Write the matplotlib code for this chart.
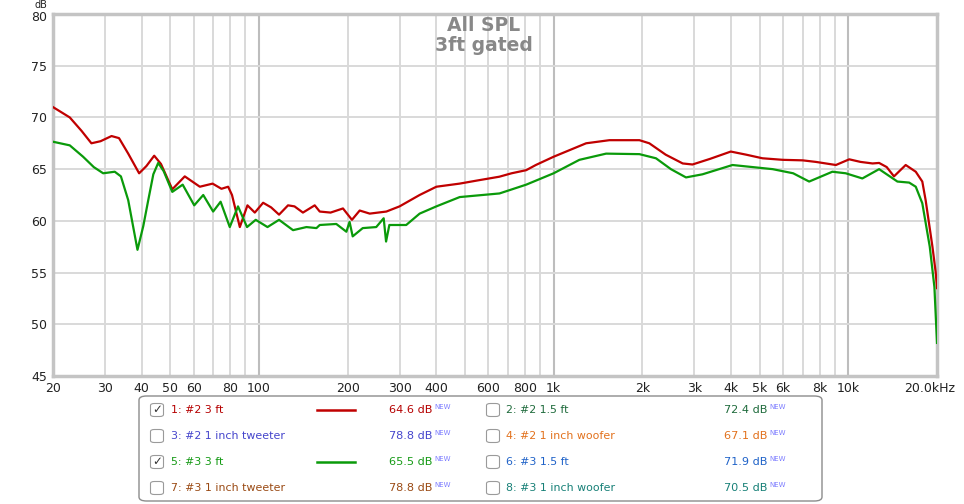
import numpy as np
import matplotlib.pyplot as plt
from matplotlib.patches import FancyBboxPatch
from matplotlib.transforms import ScaledTranslation

# values (Hz, dB)
red_f = [20, 22.8, 25.0, 27.0, 29.0, 31.6, 33.5, 36.0, 39.2, 41.5, 44.1, 46.5, 50.8, 56.0,
         63.0, 69.6, 74.6, 78.6, 81.0, 86.1, 91.4, 96.8, 103.3, 110, 117, 125.5, 132, 141,
         154.6, 160.8, 175, 192.8, 206.8, 219.7, 237.6, 270.6, 300, 350.9, 400, 479.6, 550,
         654.6, 720, 807, 870, 1000, 1289, 1546, 1955, 2112, 2400, 2742, 2960, 3400, 3992,
         4500, 5114, 6000, 7000, 7760, 9077, 10075, 11000, 12085, 12722, 13500, 14290,
         15660, 16940, 17830, 18300, 19300, 19800, 20000]
red_db = [71.0, 70.0, 68.7, 67.5, 67.7, 68.2, 68.0, 66.5, 64.6, 65.3, 66.3, 65.5, 63.05, 64.3,
          63.3, 63.6, 63.1, 63.3, 62.5, 59.4, 61.5, 60.8, 61.75, 61.3, 60.6, 61.5, 61.4, 60.8,
          61.5, 60.9, 60.8, 61.2, 60.1, 61.0, 60.7, 60.9, 61.4, 62.5, 63.3, 63.6, 63.9,
          64.27, 64.6, 64.9, 65.4, 66.2, 67.5, 67.8, 67.8, 67.5, 66.4, 65.55, 65.45, 66.0, 66.7,
          66.4, 66.05, 65.9, 65.85, 65.7, 65.4, 65.95, 65.7, 65.55, 65.6, 65.2, 64.3,
          65.4, 64.75, 63.8, 62.0, 57.5, 55.0, 53.5]

green_f = [20, 22.8, 25.3, 27.5, 29.6, 32.4, 34.0, 36.0, 38.7, 40.5, 42.1, 43.8, 45.5, 47.5,
           50.8, 55.1, 60.3, 64.7, 69.9, 74.1, 79.6, 84.9, 91.1, 97.5, 106.9, 117, 130.5,
           144.9, 156.7, 160.8, 183, 198, 203, 208, 225, 250, 265, 270, 277, 316, 351, 400,
           480, 655, 807, 1000, 1223, 1507, 1955, 2225, 2500, 2813, 3200, 4045, 5535, 6500,
           7365, 8830, 9800, 11160, 12722, 14680, 16090, 16940, 17830, 18900, 19600, 20000]
green_db = [67.65, 67.3, 66.2, 65.2, 64.6, 64.75, 64.3, 62.0, 57.2, 59.5, 62.0, 64.5, 65.6, 64.8,
            62.8, 63.5, 61.5, 62.5, 60.9, 61.85, 59.4, 61.4, 59.4, 60.1, 59.4, 60.1, 59.1,
            59.4, 59.3, 59.6, 59.7, 58.95, 59.9, 58.5, 59.3, 59.4, 60.25, 58.0, 59.6, 59.6, 60.7, 61.4,
            62.3, 62.65, 63.5, 64.6, 65.9, 66.5, 66.45, 66.05, 65.0, 64.2, 64.5, 65.4, 65.0, 64.6,
            63.8, 64.75, 64.6, 64.1, 65.0, 63.8, 63.7, 63.3, 61.7, 57.5, 53.6, 48.2]

xticks = [20, 30, 40, 50, 60, 80, 100, 200, 300, 400, 600, 800, 1000, 2000, 3000, 4000,
          5000, 6000, 8000, 10000, 20000]
xlabels = ['20', '30', '40', '50', '60', '80', '100', '200', '300', '400', '600', '800', '1k',
           '2k', '3k', '4k', '5k', '6k', '8k', '10k', '20.0kHz']
yticks = [45, 50, 55, 60, 65, 70, 75, 80]

legend_left = [('1: #2 3 ft', '64.6 dB', '#b50000', True, '#c00000'),
               ('3: #2 1 inch tweeter', '78.8 dB', '#4545cc', False, None),
               ('5: #3 3 ft', '65.5 dB', '#159a15', True, '#0a9a0a'),
               ('7: #3 1 inch tweeter', '78.8 dB', '#9a4a14', False, None)]
legend_right = [('2: #2 1.5 ft', '72.4 dB', '#1f6b3c', False, None),
                ('4: #2 1 inch woofer', '67.1 dB', '#e2711c', False, None),
                ('6: #3 1.5 ft', '71.9 dB', '#1f62c8', False, None),
                ('8: #3 1 inch woofer', '70.5 dB', '#178077', False, None)]

W, H = 964, 504
fig = plt.figure(figsize=(W / 100, H / 100), dpi=100)
ax = fig.add_axes([53 / W, 1 - 376 / H, (937 - 53) / W, (376 - 14) / H])

ax.set_xscale('log')
ax.set_xlim(20, 20000)
ax.set_ylim(45, 80)

# grid
for f in [30, 40, 50, 60, 70, 80, 90, 200, 300, 400, 500, 600, 700, 800, 900,
          2000, 3000, 4000, 5000, 6000, 7000, 8000, 9000]:
    ax.axvline(f, color='#d9d9d9', lw=1.4, zorder=1)
for f in [100, 1000, 10000]:
    ax.axvline(f, color='#bdbdbd', lw=1.5, zorder=1)
for y in yticks[1:-1]:
    ax.axhline(y, color='#d9d9d9', lw=1.4, zorder=1)

ax.plot(red_f, red_db, color='#c00000', lw=1.6, zorder=3)
ax.plot(green_f, green_db, color='#0a9a0a', lw=1.6, zorder=4)

ax.set_xticks(xticks)
ax.set_xticklabels(xlabels)
ax.xaxis.set_minor_locator(plt.NullLocator())
ax.set_yticks(yticks)
ax.tick_params(length=0, labelsize=9, pad=4, colors='#222222')
last = ax.get_xticklabels()[-1]
last.set_transform(last.get_transform() + ScaledTranslation(-7 / 100, 0, fig.dpi_scale_trans))
top = ax.get_yticklabels()[-1]
top.set_transform(top.get_transform() + ScaledTranslation(0, -2 / 100, fig.dpi_scale_trans))

for s in ax.spines.values():
    s.set_color('#c4c4c4')
    s.set_linewidth(2.5)

fig.text(47 / W, 1 - 0.5 / H, 'dB', ha='right', va='top', fontsize=7, color='#222222')

ax.text(0.487, 0.995, 'All SPL\n3ft gated', transform=ax.transAxes, ha='center', va='top',
        fontsize=13.5, fontweight='bold', color='#888888', linespacing=1.1)

# legend panel
def fx(x):
    return x / W

def fy(y):
    return 1 - y / H

box = FancyBboxPatch((fx(139), fy(501)), fx(822) - fx(139), fy(396) - fy(501),
                     boxstyle='round,pad=0,rounding_size=0.008', transform=fig.transFigure,
                     facecolor='white', edgecolor='#8c8c8c', lw=1.0)
fig.patches.append(box)

rows = [410, 436, 462, 488]

def draw_col(items, cb_x, txt_x, line_x0, line_x1, val_x):
    for (lab, val, col, checked, lc), y in zip(items, rows):
        cb = FancyBboxPatch((fx(cb_x - 6.5), fy(y + 6.5)), fx(13), 13 / H,
                            boxstyle='round,pad=0,rounding_size=0.004', transform=fig.transFigure,
                            facecolor='white', edgecolor='#9a9a9a', lw=0.8)
        fig.patches.append(cb)
        if checked:
            fig.text(fx(cb_x), fy(y), '\u2713', ha='center', va='center', fontsize=8.5,
                     color='#333333')
        fig.text(fx(txt_x), fy(y), lab, ha='left', va='center', fontsize=7.9, color=col)
        if lc:
            fig.add_artist(plt.Line2D([fx(line_x0), fx(line_x1)], [fy(y), fy(y)],
                                      color=lc, lw=1.8, transform=fig.transFigure))
        fig.text(fx(val_x), fy(y), val, ha='right', va='center', fontsize=8.1, color=col)
        fig.text(fx(val_x + 2), fy(y - 3), 'NEW', ha='left', va='center', fontsize=5,
                 color='#7d7dff')

draw_col(legend_left, 157, 171, 317, 355, 432)
draw_col(legend_right, 493, 506, 0, 0, 767)

fig.savefig('out.png', dpi=100)
